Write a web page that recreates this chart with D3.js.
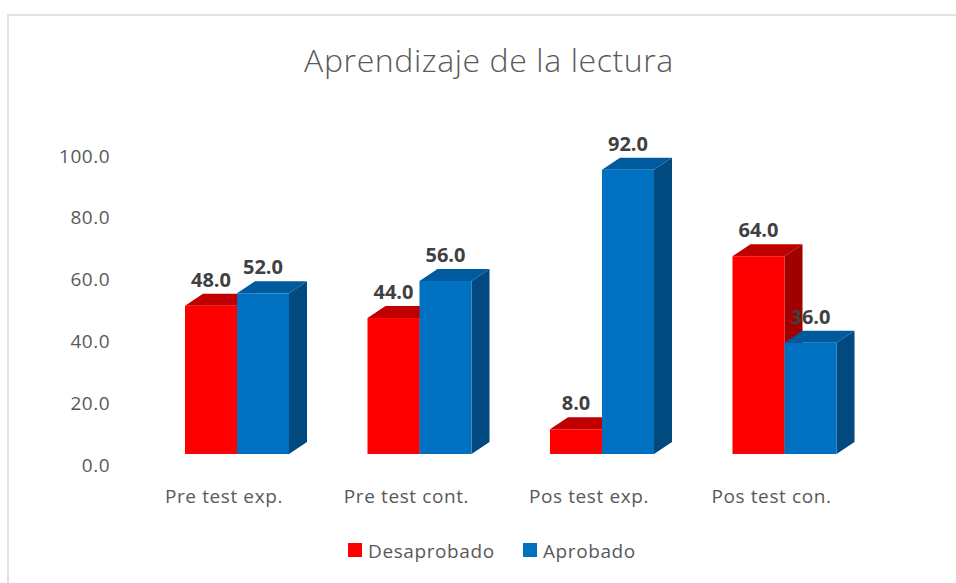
<!DOCTYPE html>
<html>
<head>
<meta charset="utf-8">
<script src="https://cdn.jsdelivr.net/npm/d3@7"></script>
<style>
  body { margin: 0; background: #fff; }
  text { font-family: "Open Sans", "Noto Sans", sans-serif; }
</style>
</head>
<body>
<svg id="chart" width="956" height="583"></svg>
<script>
// data
let categories = ["Pre test exp.", "Pre test cont.", "Pos test exp.", "Pos test con."];
let desaprobado = [48.0, 44.0, 8.0, 64.0];
let aprobado = [52.0, 56.0, 92.0, 36.0];
let yTicks = [0, 20, 40, 60, 80, 100];
let seriesNames = ["Desaprobado", "Aprobado"];

// colours: front, top, side
let colors = [
    {front: "#FF0000", top: "#C00000", side: "#A00000"},
    {front: "#0070C0", top: "#005A9E", side: "#004A80"}
];

let svg = d3.select("#chart");

// chart area border (runs off to the right and bottom)
svg.append("rect")
    .attr("x", 8).attr("y", 15)
    .attr("width", 960).attr("height", 600)
    .attr("fill", "#fff")
    .attr("stroke", "#d9d9d9")
    .attr("stroke-width", 1.5);

svg.append("text")
    .attr("x", 489).attr("y", 72)
    .attr("text-anchor", "middle")
    .attr("font-size", 32)
    .attr("font-weight", 300)
    .attr("letter-spacing", 0.6)
    .attr("fill", "#595959")
    .text("Aprendizaje de la lectura");

let dX = 18; // depth offset right
let dY = 12; // depth offset up

let x0 = d3.scaleBand()
    .domain(categories)
    .range([145.75, 875.75])
    .paddingInner(0.43)
    .paddingOuter(0.215);

let x1 = d3.scaleBand()
    .domain(seriesNames)
    .range([0, x0.bandwidth()]);

let y = d3.scaleLinear().domain([0, 100]).range([454, 145]);

// value axis, labels sit a little under the front plane
let yAxis = d3.axisLeft(y)
    .tickValues(yTicks)
    .tickFormat(d3.format(".1f"))
    .tickSize(0)
    .tickPadding(0);

let gy = svg.append("g")
    .attr("transform", "translate(110,11)")
    .call(yAxis);
gy.select(".domain").remove();
gy.selectAll("text")
    .attr("font-size", 19)
    .attr("letter-spacing", 0.5)
    .attr("fill", "#595959")
    .attr("font-family", "Open Sans");

// category labels
svg.append("g").selectAll("text")
    .data(categories)
    .join("text")
    .attr("x", d => x0(d) + x0.bandwidth() / 2 - 13)
    .attr("y", 503)
    .attr("text-anchor", "middle")
    .attr("font-size", 19)
    .attr("letter-spacing", 0.6)
    .attr("fill", "#595959")
    .text(d => d);

// bars: one row per category per series
let rows = [];
categories.forEach((c, i) => {
    rows.push({cat: c, s: 0, v: desaprobado[i]});
    rows.push({cat: c, s: 1, v: aprobado[i]});
});

let gBars = svg.append("g");

// red first, the blue bar then covers red's side face
rows.forEach(r => {
    let xl = x0(r.cat) + x1(seriesNames[r.s]);
    let xr = xl + x1.bandwidth();
    let yt = y(r.v);
    let yb = y(0);
    let col = colors[r.s];
    let g = gBars.append("g");

    // side face
    g.append("path")
        .attr("d", `M${xr},${yt} L${xr + dX},${yt - dY} L${xr + dX},${yb - dY} L${xr},${yb} Z`)
        .attr("fill", col.side);
    // top face
    g.append("path")
        .attr("d", `M${xl},${yt} L${xl + dX},${yt - dY} L${xr + dX},${yt - dY} L${xr},${yt} Z`)
        .attr("fill", col.top);
    // front face
    g.append("rect")
        .attr("x", xl).attr("y", yt)
        .attr("width", xr - xl).attr("height", yb - yt)
        .attr("fill", col.front);
});

// value labels
svg.append("g").selectAll("text")
    .data(rows)
    .join("text")
    .attr("x", d => x0(d.cat) + x1(seriesNames[d.s]) + x1.bandwidth() / 2)
    .attr("y", d => y(d.v) - dY - 7)
    .attr("text-anchor", "middle")
    .attr("font-size", 20)
    .attr("font-weight", "bold")
    .attr("fill", "#404040")
    .text(d => d3.format(".1f")(d.v));

// legend
let legend = svg.append("g").selectAll("g")
    .data(seriesNames)
    .join("g")
    .attr("transform", (d, i) => `translate(${i === 0 ? 348 : 523},543)`);
legend.append("rect")
    .attr("width", 14).attr("height", 14)
    .attr("fill", (d, i) => colors[i].front);
legend.append("text")
    .attr("x", 20).attr("y", 14.5)
    .attr("font-size", 19)
    .attr("letter-spacing", 0.6)
    .attr("fill", "#595959")
    .text(d => d);
</script>
</body>
</html>
